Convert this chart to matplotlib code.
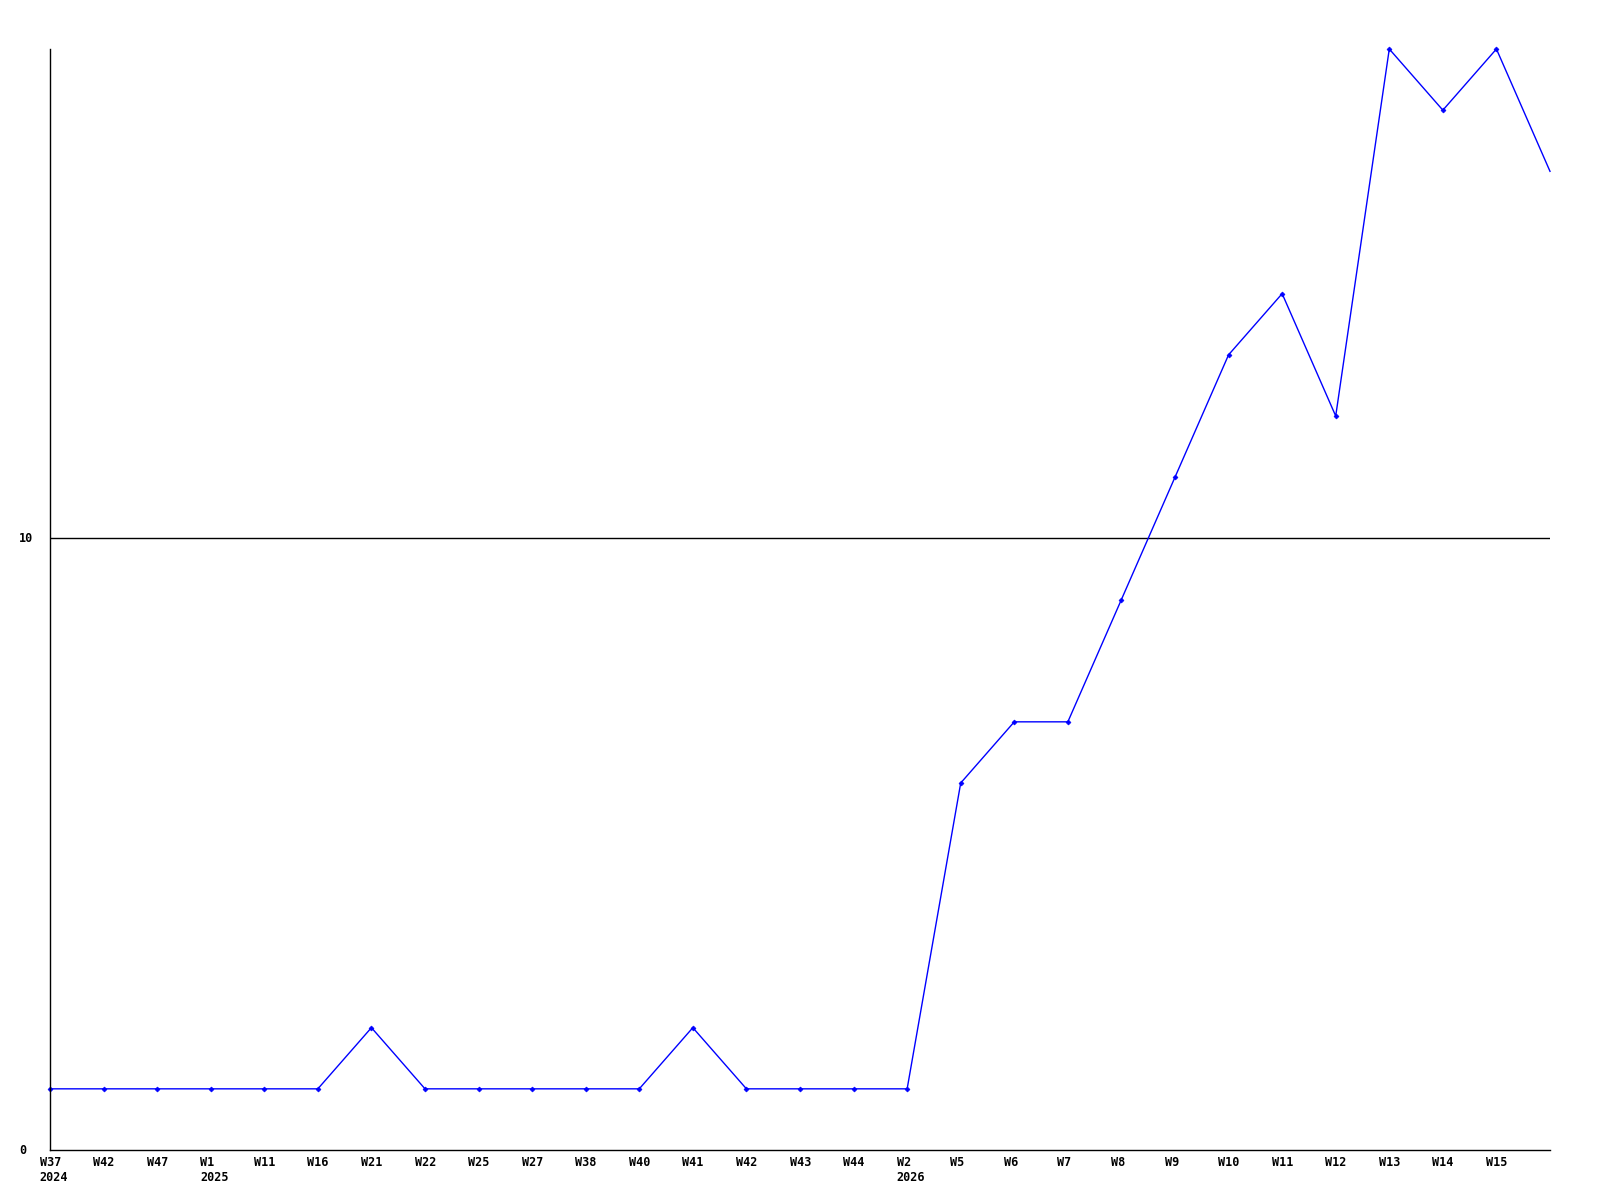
import numpy as np
import matplotlib.pyplot as plt

# weekly counts
weeks = ["W37", "W42", "W47", "W1", "W11", "W16", "W21", "W22", "W25", "W27",
         "W38", "W40", "W41", "W42", "W43", "W44", "W2", "W5", "W6", "W7",
         "W8", "W9", "W10", "W11", "W12", "W13", "W14", "W15"]
years = {0: "2024", 3: "2025", 16: "2026"}
counts = [1, 1, 1, 1, 1, 1, 2, 1, 1, 1, 1, 1, 2, 1, 1, 1, 1,
          6, 7, 7, 9, 11, 13, 14, 12, 18, 17, 18, 16]

x = np.arange(len(counts))

fig = plt.figure(figsize=(16, 12), dpi=100)
ax = fig.add_axes([50 / 1600, 1 - 1150 / 1200, 1500 / 1600, 1101 / 1200])

# the last point (current week) is drawn without a marker
ax.plot(x, counts, color='#0000ff', lw=1, marker='D', ms=2.5, mew=0.5,
        markevery=list(range(len(counts) - 1)), clip_on=False)
ax.axhline(10, color='black', lw=1, zorder=0)

ax.set_xlim(0, len(counts) - 1)
ax.set_ylim(0, 18)
for s in ['top', 'right']:
    ax.spines[s].set_visible(False)
for s in ['left', 'bottom']:
    ax.spines[s].set_linewidth(1)
ax.set_xticks([])
ax.set_yticks([])

font = dict(family='DejaVu Sans Mono', weight='bold', fontsize=8.5)
for i, w in enumerate(weeks):
    txt = w + ("\n" + years[i] if i in years else "")
    ax.annotate(txt, (x[i], 0), xytext=(-7.5, -4.5), textcoords='offset points',
                ha='left', va='top', linespacing=1.15, annotation_clip=False, **font)
for v in [0, 10]:
    ax.annotate(str(v), (0, v), xytext=(-22.5, 0), textcoords='offset points',
                ha='left', va='center', annotation_clip=False, **font)

plt.savefig('out.png', dpi=100)
